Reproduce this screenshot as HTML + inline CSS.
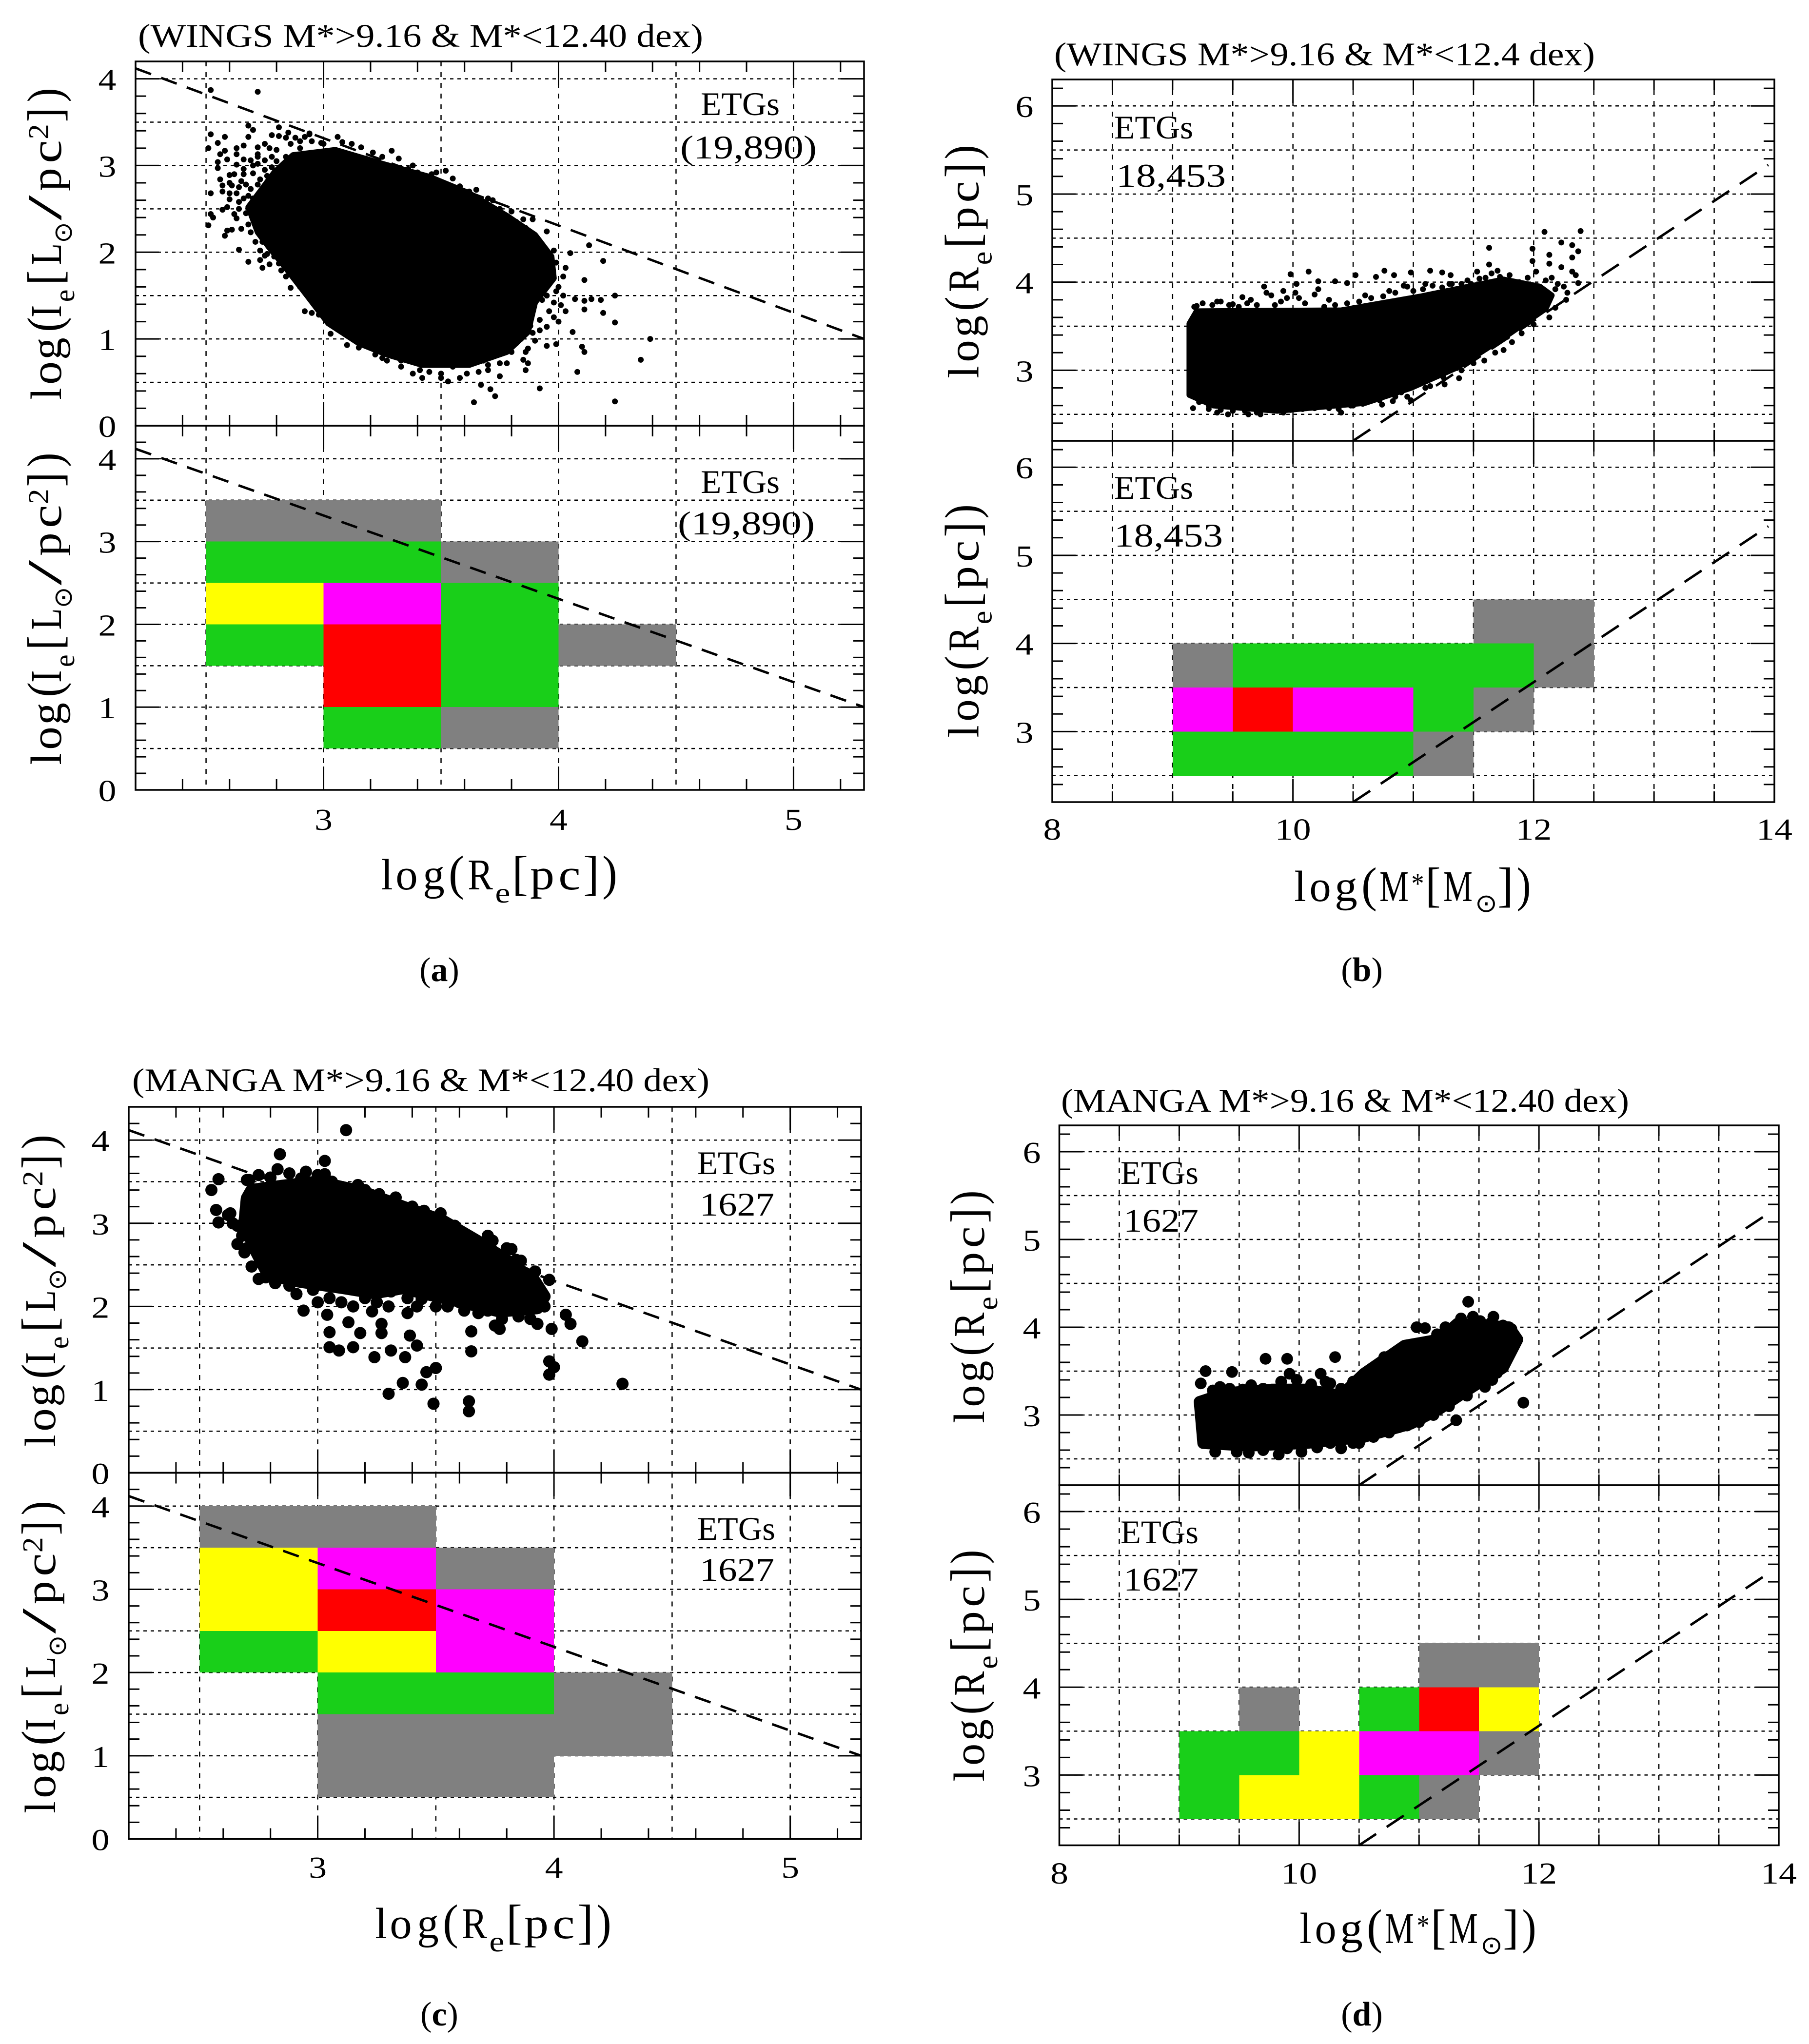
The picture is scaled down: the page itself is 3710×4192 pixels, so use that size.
<!DOCTYPE html>
<html lang="en">
<head>
<meta charset="utf-8">
<title>ETG scatter and density panels: WINGS and MANGA</title>
<style>
html,body{margin:0;padding:0;background:#fff;}
svg{display:block;}
text{font-family:"Liberation Serif","DejaVu Sans",serif;fill:#000;}
.t{font-size:68px;}
.c{font-size:70px;}
</style>
</head>
<body>
<svg id="fig" xmlns="http://www.w3.org/2000/svg" width="3710" height="4192" viewBox="0 0 3710 4192">
  <rect x="0" y="0" width="3710" height="4192" fill="#fff"/>
  <g id="plots"></g>

  <text class="t" x="283" y="96" textLength="1159" lengthAdjust="spacingAndGlyphs">(WINGS M*&gt;9.16 &amp; M*&lt;12.40 dex)</text>
  <text class="t" x="2162" y="134" textLength="1109" lengthAdjust="spacingAndGlyphs">(WINGS M*&gt;9.16 &amp; M*&lt;12.4 dex)</text>
  <text class="t" x="271" y="2238" textLength="1184" lengthAdjust="spacingAndGlyphs">(MANGA M*&gt;9.16 &amp; M*&lt;12.40 dex)</text>
  <text class="t" x="2176" y="2280" textLength="1165" lengthAdjust="spacingAndGlyphs">(MANGA M*&gt;9.16 &amp; M*&lt;12.40 dex)</text>

  <text class="t" x="1437" y="236" textLength="162" lengthAdjust="spacingAndGlyphs">ETGs</text>
  <text class="t" x="1395" y="325" textLength="280" lengthAdjust="spacingAndGlyphs">(19,890)</text>
  <text class="t" x="1437" y="1011" textLength="162" lengthAdjust="spacingAndGlyphs">ETGs</text>
  <text class="t" x="1390" y="1096" textLength="281" lengthAdjust="spacingAndGlyphs">(19,890)</text>

  <text class="t" x="2285" y="284" textLength="162" lengthAdjust="spacingAndGlyphs">ETGs</text>
  <text class="t" x="2289" y="383" textLength="225" lengthAdjust="spacingAndGlyphs">18,453</text>
  <text class="t" x="2285" y="1023" textLength="162" lengthAdjust="spacingAndGlyphs">ETGs</text>
  <text class="t" x="2285" y="1121" textLength="223" lengthAdjust="spacingAndGlyphs">18,453</text>

  <text class="t" x="1430" y="2408" textLength="160" lengthAdjust="spacingAndGlyphs">ETGs</text>
  <text class="t" x="1435" y="2493" textLength="153" lengthAdjust="spacingAndGlyphs">1627</text>
  <text class="t" x="1430" y="3158" textLength="160" lengthAdjust="spacingAndGlyphs">ETGs</text>
  <text class="t" x="1435" y="3242" textLength="153" lengthAdjust="spacingAndGlyphs">1627</text>

  <text class="t" x="2298" y="2428" textLength="160" lengthAdjust="spacingAndGlyphs">ETGs</text>
  <text class="t" x="2304" y="2526" textLength="154" lengthAdjust="spacingAndGlyphs">1627</text>
  <text class="t" x="2298" y="3165" textLength="160" lengthAdjust="spacingAndGlyphs">ETGs</text>
  <text class="t" x="2304" y="3262" textLength="154" lengthAdjust="spacingAndGlyphs">1627</text>

  <text class="c" x="901" y="2012" text-anchor="middle">(<tspan font-weight="bold">a</tspan>)</text>
  <text class="c" x="2793" y="2012" text-anchor="middle">(<tspan font-weight="bold">b</tspan>)</text>
  <text class="c" x="901" y="4154" text-anchor="middle">(<tspan font-weight="bold">c</tspan>)</text>
  <text class="c" x="2793" y="4154" text-anchor="middle">(<tspan font-weight="bold">d</tspan>)</text>
</svg>

<script>
/* ---------- tick labels ---------- */
const reTicks = [3, 4, 5];
const massTicks = [8, 10, 12, 14];
const sbTicks = [0, 1, 2, 3, 4];
const sizeTicks = [3, 4, 5, 6];

/* ---------- fit lines (data units) ---------- */
const sbFitX = [2.2, 5.3];
const sbFitY = [4.12, 1.0];
const sizeFitX = [10.5, 13.95];
const sizeFitY = [2.2, 5.33];

/* ---------- panel a: dense core outline and resolved points ---------- */
const aCoreX = [2.72,2.68,2.73,2.79,2.87,3.05,3.25,3.45,3.62,3.78,3.90,3.97,3.98,3.90,3.87,3.78,3.62,3.42,3.27,3.15,3.02,2.93,2.83,2.77];
const aCoreY = [2.23,2.52,2.70,2.92,3.12,3.18,3.02,2.87,2.68,2.42,2.20,1.95,1.70,1.42,1.08,0.85,0.70,0.70,0.82,0.95,1.18,1.50,1.85,2.05];
const aPointX = [2.52,2.72,2.68,2.70,2.68,2.52,2.58,2.55,2.51,2.58,2.56,2.55,2.55,2.59,2.63,2.66,2.63,2.66,2.69,2.72,2.75,2.77,2.72,2.75,2.78,2.81,2.85,2.81,2.92,2.94,2.63,2.66,2.70,2.56,2.57,2.60,2.61,2.57,2.65,2.64,2.69,2.73,2.52,2.60,2.64,2.57,2.59,2.52,2.53,2.51,2.62,2.63,2.65,2.61,2.59,2.58,2.69,2.71,2.64,2.68,2.73,2.74,2.77,2.73,2.75,2.81,2.82,2.84,2.86,2.94,2.92,2.95,2.98,3.03,
2.94,3.06,3.08,2.99,3.16,3.21,3.29,3.32,3.36,3.52,3.48,3.42,3.51,3.58,3.70,3.80,3.89,3.95,4.05,4.13,4.19,4.03,4.11,4.24,4.18,4.14,4.07,4.11,4.01,4.11,4.19,4.24,3.95,4.06,4.39,4.35,4.10,4.11,3.99,3.95,3.87,3.89,3.85,3.87,3.86,4.08,3.92,4.24,3.64,3.73,3.71,3.75,3.67,3.70,3.53,3.50,3.42,3.38,3.41,3.61,3.27,3.10,
2.90,3.05,3.12,3.18,3.25,3.30,3.40,
3.62,3.68,3.78,3.82,3.86,3.90,3.98,3.94,3.99,4.02,3.97,3.92,3.95,3.90,3.99,3.93,3.88,3.96,3.85,3.92,3.98,3.80,3.88,3.78,3.84,3.75,3.80,3.72,3.68,3.62,3.55,3.48,3.40,3.33,3.22,3.15,3.75,3.58,3.66,3.45,
3.00,3.12,3.25,3.38,3.46,3.55,3.65,3.72,3.75,3.85,
4.00,4.02,3.98,4.03,3.95,4.00,3.92,3.90,3.82,3.86,3.78,3.70,3.50,3.33,3.25,
2.80,2.84,2.78,2.76,2.80,2.86,2.90,2.70,2.72,2.68,2.72,2.75,2.62,2.66,2.60,2.67,2.63,2.66,2.60,2.70,2.64,2.67,2.70,2.68,2.74,2.76,2.79,2.82,2.88,2.90,2.72,2.78,2.84,2.95,2.88];
const aPointY = [3.87,3.85,3.46,3.41,3.33,3.36,3.33,3.26,3.20,3.17,3.13,3.04,2.97,3.07,3.20,3.23,3.13,3.07,3.06,3.21,3.25,3.20,3.13,3.06,3.35,3.44,3.38,3.34,3.33,3.36,3.01,2.96,2.91,2.84,2.77,2.89,2.77,2.70,2.82,2.75,2.73,2.84,2.68,2.61,2.58,2.49,2.52,2.44,2.40,2.31,2.44,2.39,2.27,2.26,2.25,2.19,2.23,2.12,2.03,1.89,1.91,1.82,1.86,2.02,1.96,1.87,1.79,1.72,1.59,1.53,1.32,1.30,1.28,1.06,
3.37,3.33,3.27,3.26,3.21,3.15,3.17,3.08,2.96,2.94,2.92,2.85,2.79,2.76,2.62,2.47,2.38,2.24,1.99,2.08,1.90,1.82,1.68,1.50,1.45,1.46,1.46,1.44,1.39,1.34,1.30,1.19,1.14,1.08,1.00,0.76,0.91,0.85,0.94,0.92,0.89,1.07,0.76,0.72,0.64,0.62,0.43,0.28,0.27,0.34,0.42,0.57,0.47,0.64,0.51,0.55,0.55,0.60,0.64,0.60,0.75,0.93,
3.28,3.18,3.12,3.08,3.02,2.98,2.92,
2.70,2.55,2.42,2.35,2.28,2.15,2.02,1.95,1.88,1.72,1.70,1.75,1.60,1.55,1.55,1.45,1.38,1.32,1.25,1.22,1.25,1.15,1.15,1.02,1.00,0.92,0.85,0.80,0.75,0.70,0.68,0.70,0.72,0.75,0.82,0.90,0.72,0.55,0.62,0.62,
3.25,3.25,3.10,3.00,2.90,2.85,2.72,2.60,2.50,2.38,
1.60,1.50,1.42,1.32,1.50,1.20,1.10,0.98,0.95,0.85,0.72,0.70,0.60,0.68,0.78,
3.05,3.10,2.98,2.88,3.18,3.25,3.20,3.00,2.78,2.65,3.02,2.95,2.90,2.90,2.80,2.78,2.68,2.62,2.68,2.62,2.50,2.45,2.38,2.32,2.12,1.98,1.95,1.92,1.68,1.60,3.10,3.10,3.32,3.28,3.32];
const aHeatX = [2.5,3.0, 2.5,3.0,3.5, 2.5,3.0,3.5, 2.5,3.0,3.5,4.0, 3.0,3.5, 3.0,3.5];
const aHeatY = [3.0,3.0, 2.5,2.5,2.5, 2.0,2.0,2.0, 1.5,1.5,1.5,1.5, 1.0,1.0, 0.5,0.5];
const aHeatLevel = [1,1, 2,2,1, 3,4,2, 2,5,2,1, 5,2, 2,1];

/* ---------- panel b ---------- */
const bCoreX = [9.14,9.20,10.40,11.07,11.75,12.05,12.15,12.10,11.75,11.36,10.98,10.60,9.87,9.34,9.14];
const bCoreY = [3.53,3.67,3.68,3.84,4.03,3.95,3.85,3.70,3.37,3.03,2.80,2.63,2.54,2.60,2.72];
const bPointX = [12.09,12.39,11.63,11.63,11.99,12.23,12.32,12.37,12.13,11.99,12.23,12.32,12.13,12.35,12.18,12.37,12.18,12.13,9.98,10.13,10.03,9.76,10.21,10.52,10.76,10.84,10.98,10.69,11.14,11.24,11.31,11.53,11.70,10.45,10.35,9.92,9.82,9.58,9.37,9.20,10.21,11.14,11.38,11.26,10.98,11.59,11.75,11.82,11.55,10.83,10.74,10.40,9.73,9.63,9.46,9.37,9.17,9.25,9.92,10.11,10.30,
9.50,9.65,9.90,10.05,10.30,10.60,10.80,10.95,11.10,11.30,11.45,11.60,11.80,11.95,12.10,12.25,
9.30,9.55,9.80,10.00,10.20,10.50,10.65,10.90,11.05,11.20,11.30,11.45,11.62,11.85,11.95,12.05,
9.18,9.25,9.33,9.40,9.47,9.55,9.62,9.70,9.78,9.85,9.95,10.02,10.10,10.18,10.26,10.35,10.45,10.55,10.65,10.75,10.85,10.92,11.00,11.08,11.16,11.24,11.32,11.40,11.48,11.55,11.65,11.72,11.88,12.02,12.15,12.28,12.20,12.32,12.27,
9.22,9.30,9.40,9.50,9.60,9.70,9.78,9.88,9.98,10.08,10.18,10.28,10.38,10.48,10.58,10.72,10.85,10.95,11.10,11.25,11.40,11.50,11.68,11.78,11.90,12.00];
const bPointY = [4.57,4.58,4.39,4.20,4.38,4.45,4.42,4.35,4.31,4.24,4.17,4.28,4.21,4.08,3.92,3.99,3.71,3.60,4.09,4.12,3.98,3.95,4.01,4.08,4.13,4.08,4.11,4.06,4.13,4.11,4.08,4.12,4.13,3.99,4.01,3.90,3.85,3.83,3.78,3.73,3.92,2.82,2.91,2.84,2.66,3.11,3.23,3.32,3.21,2.65,2.61,2.52,2.50,2.50,2.50,2.52,2.57,2.65,2.52,2.57,2.57,
3.75,3.80,3.78,3.82,3.80,3.85,3.90,3.95,3.98,3.98,4.02,4.05,4.08,4.05,4.02,3.95,
2.60,2.58,2.55,2.58,2.60,2.60,2.68,2.75,2.88,2.98,3.05,3.15,3.28,3.48,3.55,3.68,
3.72,3.76,3.74,3.78,3.74,3.72,3.76,3.74,3.88,3.74,3.82,3.88,3.76,3.86,3.72,3.74,3.76,3.78,3.82,3.84,3.88,3.96,3.90,3.92,3.96,3.94,3.98,3.98,3.98,4.04,4.10,4.06,4.00,4.12,4.05,3.88,3.98,4.12,3.80,
2.64,2.56,2.55,2.54,2.54,2.52,2.56,2.58,2.55,2.56,2.57,2.60,2.56,2.60,2.62,2.66,2.70,2.70,2.80,2.92,3.00,3.08,3.20,3.38,3.42,3.52];
const bHeatX = [11.5,12.0, 9.0,9.5,10.0,10.5,11.0,11.5,12.0, 9.0,9.5,10.0,10.5,11.0,11.5, 9.0,9.5,10.0,10.5,11.0];
const bHeatY = [4.0,4.0, 3.5,3.5,3.5,3.5,3.5,3.5,3.5, 3.0,3.0,3.0,3.0,3.0,3.0, 2.5,2.5,2.5,2.5,2.5];
const bHeatLevel = [1,1, 1,2,2,2,2,2,1, 4,5,4,4,2,1, 2,2,2,2,1];

/* ---------- panel c ---------- */
const cCoreX = [2.72,2.85,3.00,3.19,3.36,3.53,3.68,3.82,3.92,3.96,3.93,3.77,3.60,3.46,3.36,3.24,3.11,2.92,2.79,2.73,2.69,2.70];
const cCoreY = [3.40,3.45,3.50,3.38,3.20,3.03,2.78,2.52,2.30,2.12,1.98,1.94,2.06,2.15,2.22,2.16,2.22,2.30,2.38,2.71,3.01,3.30];
const cPointX = [3.12,2.84,3.03,2.58,2.55,2.57,2.58,2.66,2.69,2.72,2.75,2.82,2.91,2.94,3.04,3.05,3.05,3.09,3.15,3.18,3.13,3.27,3.27,3.23,3.24,3.31,3.37,3.39,3.42,3.38,3.44,3.50,3.46,3.44,3.36,3.30,3.49,3.64,3.64,3.65,3.65,3.75,3.77,3.93,3.99,4.05,4.07,4.12,3.98,4.00,3.98,4.29,3.82,3.84,3.74,3.91,3.98,3.52,3.58,3.33,3.26,3.17,3.03,2.93,2.83,2.71,2.63,2.66,2.77,3.11,3.31,3.55,3.68,3.85,3.00,3.10,3.20,3.30,3.50,3.60,3.85,3.96,3.80,
2.70,2.75,2.80,2.88,2.95,3.00,3.06,3.12,3.20,3.28,3.40,3.45,3.60,3.70,3.78,3.88,
2.62,2.64,2.68,2.70,
2.78,2.88,2.98,3.05,3.15,3.25,3.38,3.42,3.55,3.62,3.72,3.78,3.90,
3.72,3.80,3.86,3.92];
const cPointY = [4.12,3.83,3.75,3.53,3.40,3.16,3.01,2.75,2.65,2.48,2.33,2.28,2.15,1.95,1.90,1.69,1.51,1.47,1.51,1.68,1.81,1.79,1.68,1.94,1.39,1.47,1.39,1.65,1.53,1.92,2.09,1.26,1.21,1.06,1.08,0.95,0.83,0.86,0.74,1.70,1.46,1.77,1.73,1.79,1.73,1.90,1.79,1.58,1.34,1.27,1.18,1.07,2.69,2.56,2.79,2.37,2.32,3.12,2.97,3.31,3.35,3.46,3.59,3.54,3.65,3.52,3.12,2.97,2.64,2.26,2.18,2.07,1.92,1.88,2.05,2.05,2.10,2.00,2.00,2.05,1.98,2.00,2.20,
3.52,3.58,3.55,3.60,3.62,3.58,3.50,3.42,3.40,3.22,3.20,3.15,2.90,2.72,2.60,2.40,
3.10,3.00,2.85,2.70,
2.35,2.25,2.20,2.10,2.00,2.05,2.10,2.00,2.00,1.95,1.95,1.85,1.85,
2.85,2.70,2.55,2.42];
const cHeatX = [2.5,3.0, 2.5,3.0,3.5, 2.5,3.0,3.5, 2.5,3.0,3.5, 3.0,3.5,4.0, 3.0,3.5,4.0, 3.0,3.5];
const cHeatY = [3.5,3.5, 3.0,3.0,3.0, 2.5,2.5,2.5, 2.0,2.0,2.0, 1.5,1.5,1.5, 1.0,1.0,1.0, 0.5,0.5];
const cHeatLevel = [1,1, 3,4,1, 3,5,4, 2,3,4, 2,2,1, 1,1,1, 1,1];

/* ---------- panel d ---------- */
const dCoreX = [9.17,9.39,9.77,10.06,10.35,10.54,10.88,11.17,11.32,11.75,11.82,11.70,11.41,11.17,10.93,10.54,10.06,9.58,9.20];
const dCoreY = [3.15,3.25,3.29,3.29,3.22,3.47,3.79,3.86,4.04,4.00,3.86,3.54,3.29,3.07,2.90,2.75,2.68,2.65,2.68];
const dPointX = [11.41,11.62,9.72,9.90,10.30,10.98,11.05,9.22,9.18,9.44,9.34,9.53,9.64,9.92,10.18,10.26,11.87,11.31,11.61,10.02,9.83,9.58,9.48,9.20,9.20,9.22,9.20,10.91,11.07,10.71,10.54,10.83,10.69,10.45,10.26,11.77,11.80,11.51,
9.28,9.42,9.60,9.70,9.85,9.98,10.10,10.22,10.35,10.45,10.62,10.70,10.80,11.15,11.22,11.35,11.45,11.60,11.70,
9.30,9.70,9.90,10.15,10.35,10.50,10.62,10.75,10.90,11.00,11.12,11.25,11.40,11.55,11.65,11.72];
const dPointY = [4.29,4.12,3.64,3.64,3.66,4.00,3.99,3.50,3.36,3.49,3.32,3.29,3.28,3.47,3.47,3.36,3.14,2.94,3.40,2.58,2.55,2.57,2.58,2.72,2.86,2.99,3.13,3.77,3.77,3.66,3.45,2.86,2.83,2.68,2.68,3.98,3.86,4.07,
3.28,3.30,3.34,3.30,3.38,3.40,3.35,3.38,3.30,3.38,3.52,3.58,3.68,3.92,4.00,4.10,4.12,4.05,4.02,
2.58,2.60,2.62,2.63,2.62,2.68,2.75,2.80,2.88,2.92,3.00,3.10,3.22,3.32,3.48,3.60];
const dHeatX = [11.0,11.5, 9.5,10.5,11.0,11.5, 9.0,9.5,10.0,10.5,11.0,11.5, 9.0,9.5,10.0,10.5,11.0];
const dHeatY = [4.0,4.0, 3.5,3.5,3.5,3.5, 3.0,3.0,3.0,3.0,3.0,3.0, 2.5,2.5,2.5,2.5,2.5];
const dHeatLevel = [1,1, 1,2,5,3, 2,2,3,4,4,1, 2,3,3,2,1];

/* ---------- axis-title glyph runs: text, ink start, ink end, role ---------- */
const sbTitleRuns = [['l',0,21],['o',32,74],['g',82,124],['(',141,164],['I',168,191],['e',200,223,'sub'],['[',238,259],['L',276,318],['\u2299',322,360,'sun'],['/',366,418],['p',427,473],['c',486,528],['2',534,562,'sup'],[']',572,593],[')',612,634]];
const sizeTitleRuns = [['l',0,22],['o',34,74],['g',84,125],['(',140,162],['R',176,225],['e',232,257,'sub'],['[',270,291],['p',304,349],['c',361,400],[']',414,436],[')',451,473]];
const reTitleRuns = [['l',0,21],['o',31,71],['g',86,127],['(',141,165],['R',177,227],['e',234,262,'sub'],['[',272,295],['p',305,353],['c',365,405],[']',418,441],[')',456,479]];
const massTitleRuns = [['l',0,21],['o',32,71],['g',83,126],['(',140,164],['M',174,232],['*',241,262,'star'],['[',272,294],['M',305,363],['\u2299',372,412,'sun'],[']',420,443],[')',458,480]];

const levelColor = {1:'#808080', 2:'#19cf19', 3:'#ffff00', 4:'#ff00ff', 5:'#ff0000'};
const inkRatio = {l:.86, o:.88, g:.92, '(':.75, ')':.75, '[':.7, ']':.7, I:.9, e:.9, L:.95, p:.96, c:.88, '/':1, '2':.88, R:.97, M:.97, '*':.8, '\u2299':.87};
const NS = 'http://www.w3.org/2000/svg';
const plots = document.getElementById('plots');

function node(tag, name, parent) {
  const el = document.createElementNS(NS, tag);
  
  
  parent.appendChild(el);
  return el;
}
function seg(name, parent, x1, y1, x2, y2, w, dash) {
  const l = node('line', name, parent);
  l.setAttribute('x1', x1); l.setAttribute('y1', y1);
  l.setAttribute('x2', x2); l.setAttribute('y2', y2);
  l.setAttribute('stroke', '#000');
  l.setAttribute('stroke-width', w);
  if (dash) l.setAttribute('stroke-dasharray', dash);
  return l;
}
function stepValues(min, max, step) {
  const out = [];
  for (let k = Math.ceil(min / step + 1e-6); k * step < max - 1e-6; k++) out.push(Math.round(k * step * 100) / 100);
  return out;
}

function drawPanel(p) {
  const g = node('g', 'panel-' + p.id, plots);
  const sx = v => p.left + (v - p.xMin) / (p.xMax - p.xMin) * (p.right - p.left);
  const sy = v => p.bottom - (v - p.yMin) / (p.yMax - p.yMin) * (p.bottom - p.top);

  /* grid */
  const grid = node('g', 'grid', g);
  stepValues(p.xMin, p.xMax, 0.5).forEach(v => seg('grid-line-x', grid, sx(v), p.top, sx(v), p.bottom, 2.5, '10 12'));
  stepValues(p.yMin, p.yMax, 0.5).forEach(v => seg('grid-line-y', grid, p.left, sy(v), p.right, sy(v), 2.5, '7 8'));

  /* ticks */
  const ticks = node('g', 'ticks', g);
  stepValues(p.xMin, p.xMax, p.xStep).forEach(v => {
    const len = p.xTicks.includes(v) ? 48 : 22;
    seg('x-tick', ticks, sx(v), p.top, sx(v), p.top + len, 3);
    seg('x-tick', ticks, sx(v), p.bottom, sx(v), p.bottom - len, 3);
  });
  stepValues(p.yMin, p.yMax, 0.2).forEach(v => {
    const len = p.yTicks.includes(v) ? 48 : 22;
    seg('y-tick', ticks, p.left, sy(v), p.left + len, sy(v), 3);
    seg('y-tick', ticks, p.right, sy(v), p.right - len, sy(v), 3);
  });

  /* density cells */
  if (p.heatX) {
    const heat = node('g', 'density-cells', g);
    p.heatX.forEach((hx, i) => {
      const r = node('rect', 'density-cell', heat);
      r.setAttribute('x', sx(hx));
      r.setAttribute('y', sy(p.heatY[i] + 0.5));
      r.setAttribute('width', sx(hx + 0.5) - sx(hx));
      r.setAttribute('height', sy(p.heatY[i]) - sy(p.heatY[i] + 0.5));
      r.setAttribute('fill', levelColor[p.heatLevel[i]]);
      r.setAttribute('shape-rendering', 'crispEdges');
    });
  }

  /* fit line */
  seg('fit-line', g, sx(p.fitX[0]), sy(p.fitY[0]), sx(p.fitX[1]), sy(p.fitY[1]), 5, p.fitDash);

  /* scatter */
  if (p.coreX) {
    const core = node('polygon', 'dense-point-core', g);
    core.setAttribute('points', p.coreX.map((cx, i) => sx(cx) + ',' + sy(p.coreY[i])).join(' '));
    core.setAttribute('fill', '#000');
    core.setAttribute('stroke', '#000');
    core.setAttribute('stroke-width', p.r * 2);
    core.setAttribute('stroke-linejoin', 'round');
    const pts = node('g', 'scatter-points', g);
    p.pointX.forEach((px, i) => {
      const c = node('circle', 'galaxy-point', pts);
      c.setAttribute('cx', sx(px));
      c.setAttribute('cy', sy(p.pointY[i]));
      c.setAttribute('r', p.r);
      c.setAttribute('fill', '#000');
    });
  }

  /* frame */
  const frame = node('rect', 'plot-frame', g);
  frame.setAttribute('x', p.left);
  frame.setAttribute('y', p.top);
  frame.setAttribute('width', p.right - p.left);
  frame.setAttribute('height', p.bottom - p.top);
  frame.setAttribute('fill', 'none');
  frame.setAttribute('stroke', '#000');
  frame.setAttribute('stroke-width', 3.5);

  /* tick labels */
  p.yTicks.forEach(v => {
    const s = String(v);
    const t = node('text', 'y-tick-label', g);
    t.setAttribute('x', p.yLabelX);
    t.setAttribute('y', sy(v) + 23);
    t.setAttribute('font-size', 62);
    t.setAttribute('text-anchor', 'middle');
    t.setAttribute('textLength', 37 * s.length);
    t.setAttribute('lengthAdjust', 'spacingAndGlyphs');
    t.textContent = s;
  });
  if (p.xLabelY) {
    p.xTicks.forEach(v => {
      const s = String(v);
      const t = node('text', 'x-tick-label', g);
      t.setAttribute('x', sx(v));
      t.setAttribute('y', p.xLabelY);
      t.setAttribute('font-size', 62);
      t.setAttribute('text-anchor', 'middle');
      t.setAttribute('textLength', 37 * s.length);
      t.setAttribute('lengthAdjust', 'spacingAndGlyphs');
      t.textContent = s;
    });
  }
}

function drawTitle(name, runs, vertical, base, start, total) {
  const g = node('g', name, plots);
  const k = total / runs[runs.length - 1][2];
  if (vertical) g.setAttribute('transform', 'translate(' + base + ',' + start + ') rotate(-90)');
  else g.setAttribute('transform', 'translate(' + start + ',' + base + ')');
  runs.forEach(run => {
    const role = run[3];
    const ch = run[0];
    const t = node('text', 'axis-title-run', g);
    let size = '([])/'.includes(ch) ? 100 : 90;
    let dy = 0;
    if (role === 'sub') { size = 59; dy = 27; }
    if (role === 'sup') { size = 59; dy = -26; }
    if (role === 'sun') { size = 52; dy = 22; }
    if (role === 'star') { size = 60; dy = -16; }
    t.setAttribute('x', (run[1] + run[2]) / 2 * k);
    t.setAttribute('y', dy);
    t.setAttribute('font-size', size);
    t.setAttribute('text-anchor', 'middle');
    t.setAttribute('textLength', (run[2] - run[1]) * k / inkRatio[ch]);
    t.setAttribute('lengthAdjust', 'spacingAndGlyphs');
    t.textContent = ch;
  });
}

const sbFit = {fitX: sbFitX, fitY: sbFitY, fitDash: '34 22', xMin: 2.2, xMax: 5.3, yMin: 0, xStep: 0.2, xTicks: reTicks, yTicks: sbTicks};
const sizeFit = {fitX: sizeFitX, fitY: sizeFitY, fitDash: '42 26', xMin: 8, xMax: 14, yMin: 2.2, yMax: 6.3, xStep: 0.5, xTicks: massTicks, yTicks: sizeTicks};

drawPanel(Object.assign({}, sbFit, {id: 'a-scatter', left: 278, right: 1772, top: 126, bottom: 873, yMax: 4.2, yLabelX: 220, coreX: aCoreX, coreY: aCoreY, pointX: aPointX, pointY: aPointY, r: 6}));
drawPanel(Object.assign({}, sbFit, {id: 'a-density', left: 278, right: 1772, top: 873, bottom: 1620, yMax: 4.4, yLabelX: 220, xLabelY: 1702, heatX: aHeatX, heatY: aHeatY, heatLevel: aHeatLevel}));
drawPanel(Object.assign({}, sizeFit, {id: 'b-scatter', left: 2158, right: 3639, top: 163, bottom: 904, yLabelX: 2101, coreX: bCoreX, coreY: bCoreY, pointX: bPointX, pointY: bPointY, r: 6}));
drawPanel(Object.assign({}, sizeFit, {id: 'b-density', left: 2158, right: 3639, top: 904, bottom: 1645, yLabelX: 2101, xLabelY: 1722, heatX: bHeatX, heatY: bHeatY, heatLevel: bHeatLevel}));
drawPanel(Object.assign({}, sbFit, {id: 'c-scatter', left: 264, right: 1766, top: 2270, bottom: 3020.5, yMax: 4.4, yLabelX: 206, coreX: cCoreX, coreY: cCoreY, pointX: cPointX, pointY: cPointY, r: 12.5}));
drawPanel(Object.assign({}, sbFit, {id: 'c-density', left: 264, right: 1766, top: 3020.5, bottom: 3771.5, yMax: 4.4, yLabelX: 206, xLabelY: 3851, heatX: cHeatX, heatY: cHeatY, heatLevel: cHeatLevel}));
drawPanel(Object.assign({}, sizeFit, {id: 'd-scatter', left: 2172.5, right: 3648, top: 2308, bottom: 3046, yLabelX: 2116, coreX: dCoreX, coreY: dCoreY, pointX: dPointX, pointY: dPointY, r: 12}));
drawPanel(Object.assign({}, sizeFit, {id: 'd-density', left: 2172.5, right: 3648, top: 3046, bottom: 3784.5, yLabelX: 2116, xLabelY: 3863, heatX: dHeatX, heatY: dHeatY, heatLevel: dHeatLevel}));

drawTitle('y-axis-title-a-scatter', sbTitleRuns, true, 125, 818, 634);
drawTitle('y-axis-title-a-density', sbTitleRuns, true, 125, 1567, 635);
drawTitle('x-axis-title-a', reTitleRuns, false, 1824, 783, 479);
drawTitle('y-axis-title-b-scatter', sizeTitleRuns, true, 2006.5, 774, 473);
drawTitle('y-axis-title-b-density', sizeTitleRuns, true, 2006.5, 1511, 473);
drawTitle('x-axis-title-b', massTitleRuns, false, 1848, 2656, 480);
drawTitle('y-axis-title-c-scatter', sbTitleRuns, true, 113, 2965, 634);
drawTitle('y-axis-title-c-density', sbTitleRuns, true, 113, 3717, 635);
drawTitle('x-axis-title-c', reTitleRuns, false, 3975, 771, 479);
drawTitle('y-axis-title-d-scatter', sizeTitleRuns, true, 2018, 2917, 472);
drawTitle('y-axis-title-d-density', sizeTitleRuns, true, 2018, 3652, 470);
drawTitle('x-axis-title-d', massTitleRuns, false, 3985, 2667, 480);
</script>
</body>
</html>
